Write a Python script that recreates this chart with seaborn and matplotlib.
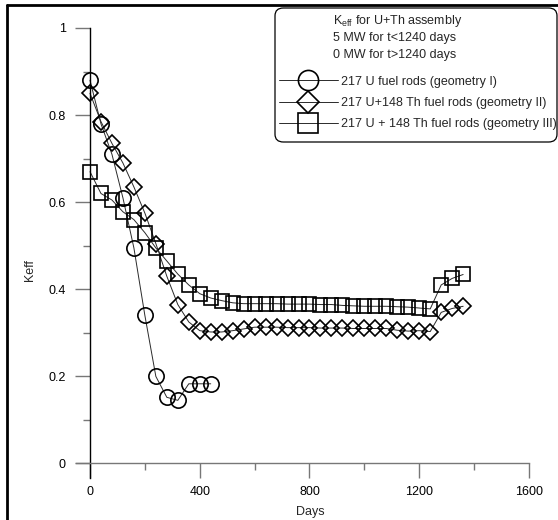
import numpy as np
import matplotlib
matplotlib.use("Agg")
import matplotlib.pyplot as plt
import seaborn as sns
from matplotlib.lines import Line2D
from matplotlib.patches import FancyBboxPatch
from matplotlib.ticker import MultipleLocator

# ---------------- data ----------------
days_geo1 = [0, 40, 80, 120, 160, 200, 240, 280, 320, 360, 400, 440]
keff_geo1 = [0.88, 0.78, 0.71, 0.61, 0.495, 0.34, 0.20, 0.152, 0.145, 0.183, 0.183, 0.183]

days_geo2 = [0, 40, 80, 120, 160, 200, 240, 280, 320, 360, 400, 440, 480, 520,
             560, 600, 640, 680, 720, 760, 800, 840, 880, 920, 960, 1000, 1040,
             1080, 1120, 1160, 1200, 1240, 1280, 1320, 1360]
keff_geo2 = [0.85, 0.785, 0.735, 0.69, 0.635, 0.575, 0.505, 0.43, 0.365, 0.325,
             0.305, 0.302, 0.302, 0.305, 0.309, 0.313, 0.313, 0.313, 0.312, 0.312,
             0.312, 0.311, 0.311, 0.311, 0.310, 0.310, 0.310, 0.310, 0.306, 0.304,
             0.305, 0.303, 0.347, 0.356, 0.361]

days_geo3 = [0, 40, 80, 120, 160, 200, 240, 280, 320, 360, 400, 440, 480, 520,
             560, 600, 640, 680, 720, 760, 800, 840, 880, 920, 960, 1000, 1040,
             1080, 1120, 1160, 1200, 1240, 1280, 1320, 1360]
keff_geo3 = [0.67, 0.62, 0.605, 0.578, 0.56, 0.53, 0.495, 0.465, 0.435, 0.41,
             0.39, 0.38, 0.374, 0.369, 0.367, 0.367, 0.367, 0.367, 0.366, 0.366,
             0.366, 0.365, 0.365, 0.363, 0.362, 0.361, 0.361, 0.361, 0.360, 0.359,
             0.357, 0.355, 0.41, 0.425, 0.434]

labels = ["217 U fuel rods (geometry I)",
          "217 U+148 Th fuel rods (geometry II)",
          "217 U + 148 Th fuel rods (geometry III)"]
title_lines = [r"K$_{\mathrm{eff}}$ for U+Th assembly",
               "5 MW for t<1240 days",
               "0 MW for t>1240 days"]
x_major = [0, 400, 800, 1200, 1600]
y_major = [0, 0.2, 0.4, 0.6, 0.8, 1.0]
y_ticklabels = ["0", "0.2", "0.4", "0.6", "0.8", "1"]

# ---------------- style ----------------
sns.set_theme(style="ticks")
plt.rcParams["font.family"] = ["Liberation Sans", "DejaVu Sans"]
plt.rcParams["mathtext.fontset"] = "custom"
plt.rcParams["mathtext.rm"] = "Liberation Sans"
plt.rcParams["mathtext.it"] = "Liberation Sans:italic"
plt.rcParams["font.size"] = 9

W, H = 558, 520
fig = plt.figure(figsize=(W / 100, H / 100), dpi=100)
fig.patch.set_facecolor("white")

ax_left, ax_right, ax_top, ax_bot = 76, 529, 28, 478
ax = fig.add_axes([ax_left / W, (H - ax_bot) / H,
                   (ax_right - ax_left) / W, (ax_bot - ax_top) / H])
ax.set_facecolor("white")

line_kw = dict(color="#2a2a2a", linewidth=0.7)
mk_kw = dict(markerfacecolor="none", markeredgecolor="black", markeredgewidth=1.2)

sns.lineplot(x=days_geo1, y=keff_geo1, ax=ax, marker="o", markersize=11,
             **line_kw, **mk_kw)
sns.lineplot(x=days_geo2, y=keff_geo2, ax=ax, marker="D", markersize=8.5,
             **line_kw, **mk_kw)
sns.lineplot(x=days_geo3, y=keff_geo3, ax=ax, marker="s", markersize=10.5,
             **line_kw, **mk_kw)

ax.set_xlim(-51, 1600)
ax.set_ylim(-0.0333, 1.0)

for s in ["top", "right"]:
    ax.spines[s].set_visible(False)
ax.spines["left"].set_position(("data", 0))
ax.spines["bottom"].set_position(("data", 0))
ax.spines["left"].set_color("black")
ax.spines["left"].set_linewidth(1.0)
ax.spines["bottom"].set_color("#777777")
ax.spines["bottom"].set_linewidth(1.0)

ax.set_xticks(x_major)
ax.set_xticklabels([str(v) for v in x_major])
ax.xaxis.set_minor_locator(MultipleLocator(200))
ax.set_yticks(y_major)
ax.set_yticklabels(y_ticklabels)
ax.yaxis.set_minor_locator(MultipleLocator(0.1))
ax.tick_params(axis="both", which="major", direction="out", length=10.5,
               width=1.0, color="#777777", labelsize=9, labelcolor="black")
ax.tick_params(axis="both", which="minor", direction="out", length=5,
               width=1.0, color="#777777")
ax.tick_params(axis="x", which="major", pad=6)
ax.tick_params(axis="y", which="major", pad=7)

ax.set_xlabel("Days", fontsize=9, labelpad=0)
ax.set_ylabel("Keff", fontsize=9)
ax.xaxis.label.set_va("center")
ax.yaxis.label.set_va("center")
ax.xaxis.set_label_coords((310 - ax_left) / (ax_right - ax_left),
                          -(512 - ax_bot) / (ax_bot - ax_top))
ax.yaxis.set_label_coords(-(ax_left - 30) / (ax_right - ax_left),
                          (ax_bot - 270) / (ax_bot - ax_top))

# ---------------- legend ----------------
box = FancyBboxPatch((275 / W, (H - 142) / H), (557 - 275) / W, (142 - 8) / H,
                     boxstyle="round,pad=0,rounding_size=0.015",
                     transform=fig.transFigure, facecolor="white",
                     edgecolor="black", linewidth=0.9, zorder=5)
fig.patches.append(box)

for i, t in enumerate(title_lines):
    fig.text(333 / W, (H - [21, 38, 55][i]) / H, t, ha="left", va="center",
             fontsize=9, zorder=6)

handles = [
    Line2D([], [], color="#2a2a2a", lw=0.7, marker="o", ms=14.5, **mk_kw),
    Line2D([], [], color="#2a2a2a", lw=0.7, marker="D", ms=11, **mk_kw),
    Line2D([], [], color="#2a2a2a", lw=0.7, marker="s", ms=14, **mk_kw),
]
leg = fig.legend(handles, labels, loc="center left",
                 bbox_to_anchor=(279 / W, (H - 103) / H),
                 bbox_transform=fig.transFigure, frameon=False, fontsize=9,
                 handlelength=4.7, handletextpad=0.25, labelspacing=0.75,
                 borderpad=0, borderaxespad=0)
leg.set_zorder(7)

# ---------------- outer frame lines (left & top) ----------------
fig.add_artist(Line2D([7 / W, 7 / W], [0, (H - 5) / H],
                      transform=fig.transFigure, color="black", lw=2.0))
fig.add_artist(Line2D([7 / W, 1], [(H - 5) / H, (H - 5) / H],
                      transform=fig.transFigure, color="black", lw=2.0))

fig.savefig("out.png", dpi=100, facecolor="white")
